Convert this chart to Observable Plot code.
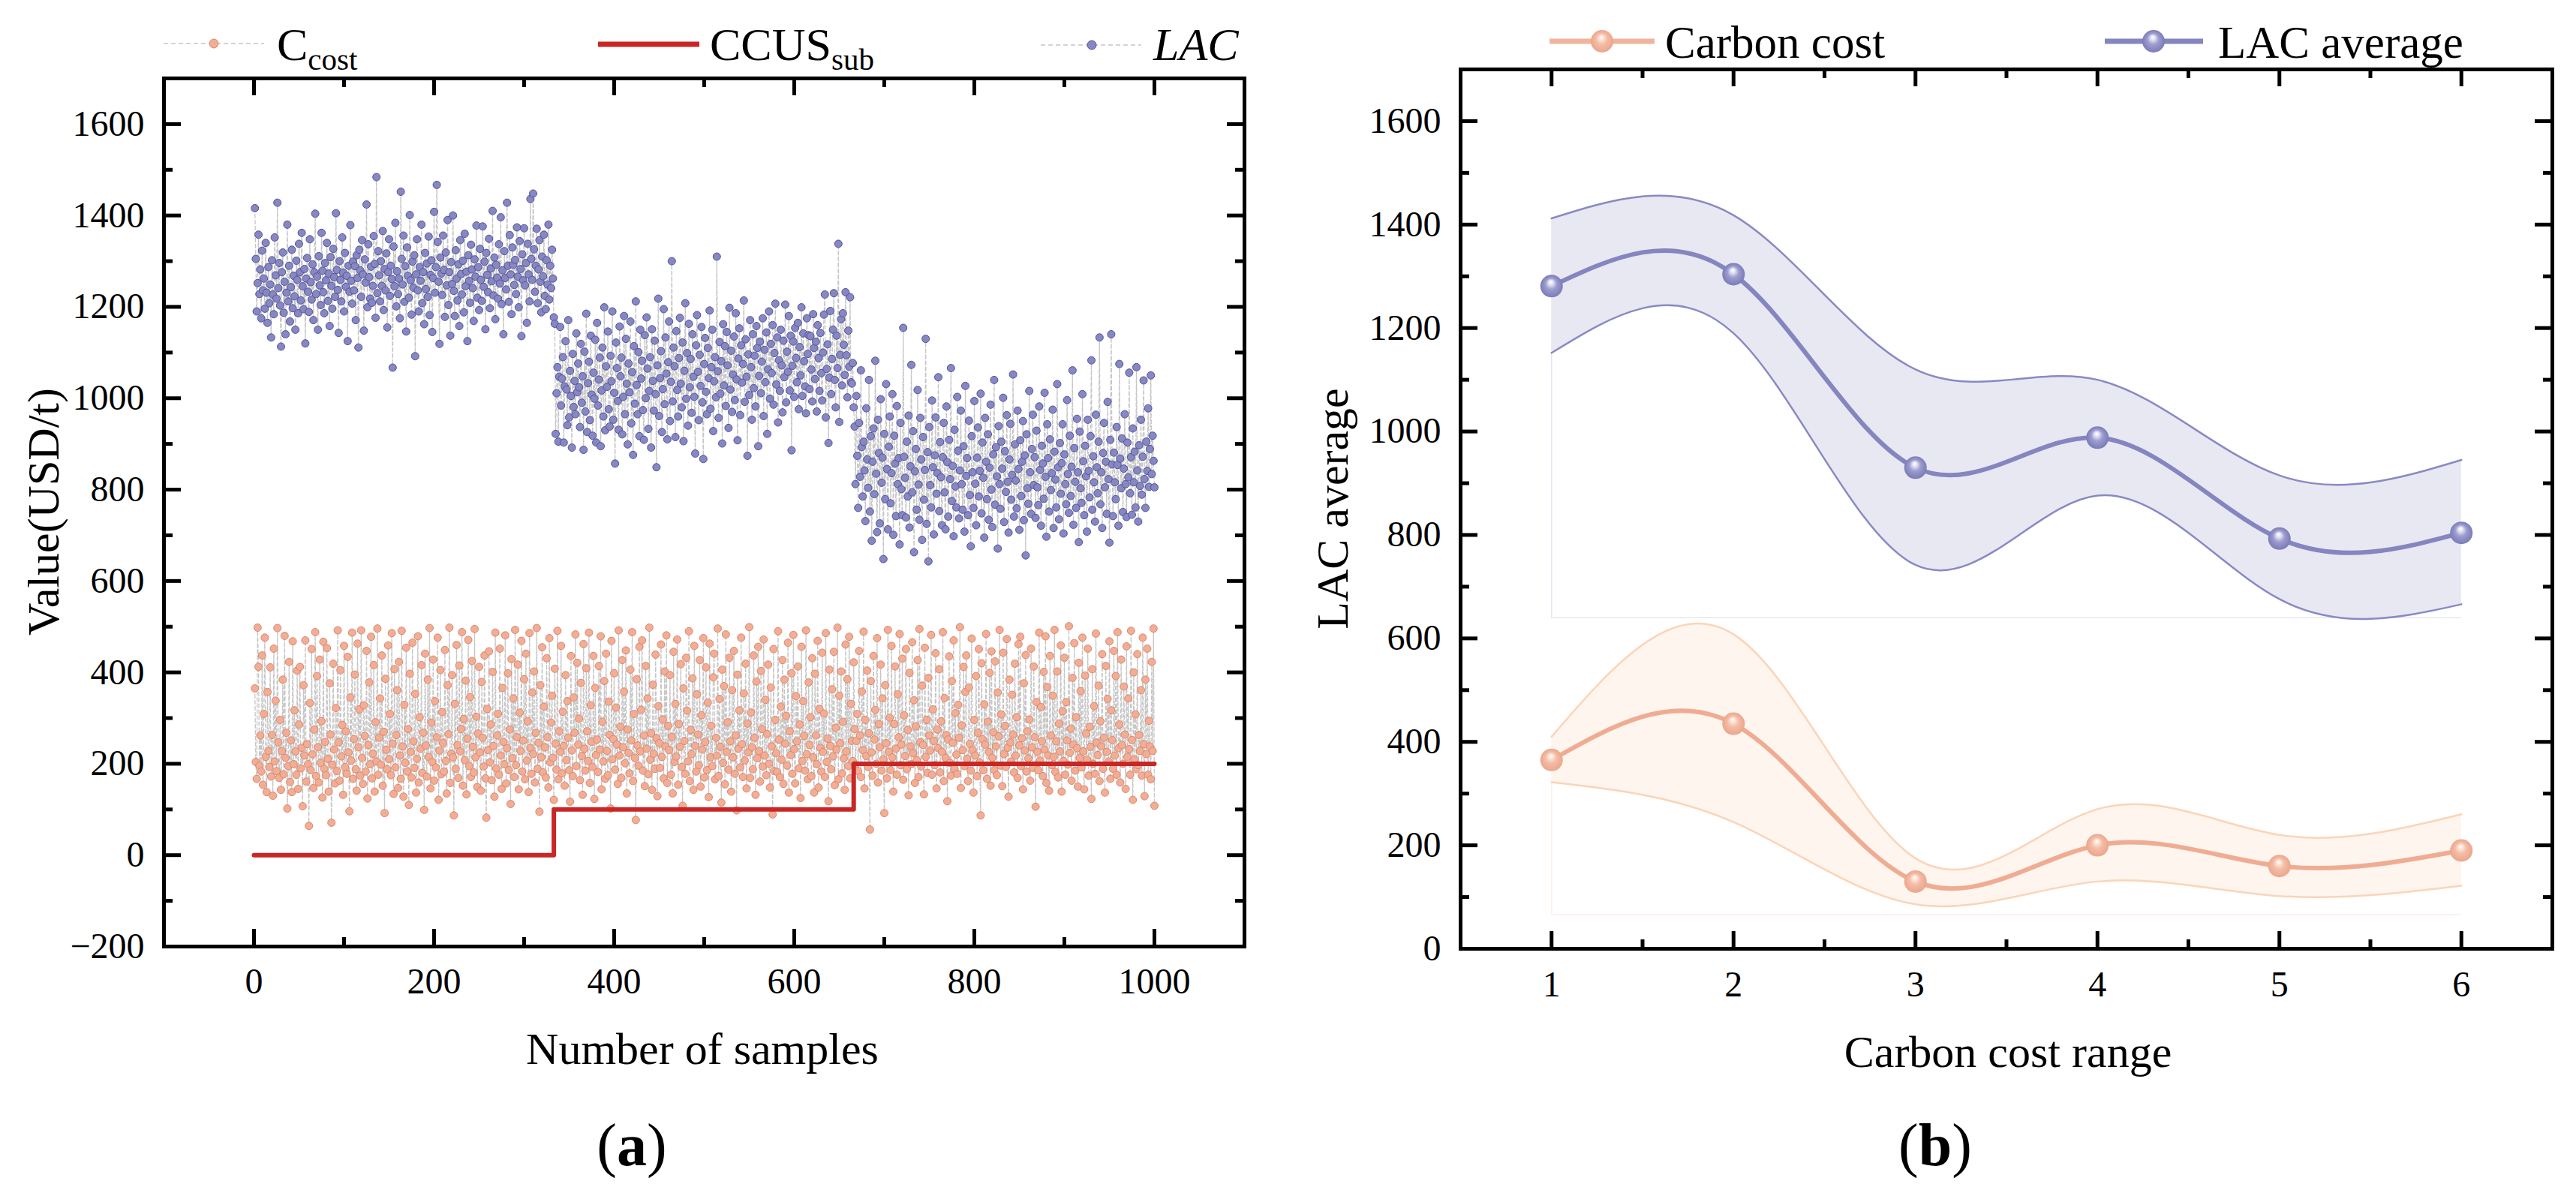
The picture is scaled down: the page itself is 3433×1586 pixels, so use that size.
<!DOCTYPE html>
<html>
<head>
<meta charset="utf-8">
<script src="https://cdn.jsdelivr.net/npm/d3@7"></script>
<script src="https://cdn.jsdelivr.net/npm/@observablehq/plot@0.6"></script>
<style>
  body { margin: 0; background: #fff; color: #000; }
  #root { position: relative; width: 3433px; height: 1586px; background: #fff; overflow: hidden;
          font-family: "Liberation Serif", "Times New Roman", serif; }
  #root svg.panel { position: absolute; top: 0; }
  #root svg text, #root svg tspan { font-family: "Liberation Serif", "Times New Roman", serif !important; font-variant: normal !important; }
  #overlay { position: absolute; left: 0; top: 0; pointer-events: none; }
</style>
</head>
<body>
<svg width="0" height="0" style="position:absolute">
  <defs>
    <radialGradient id="gLac" cx="50%" cy="50%" r="50%" fx="46%" fy="30%">
      <stop offset="0" stop-color="#ffffff"/>
      <stop offset="0.2" stop-color="#e4e4f3"/>
      <stop offset="0.5" stop-color="#9d9dcf"/>
      <stop offset="1" stop-color="#7b7bb8"/>
    </radialGradient>
    <radialGradient id="gCost" cx="50%" cy="50%" r="50%" fx="46%" fy="30%">
      <stop offset="0" stop-color="#ffffff"/>
      <stop offset="0.2" stop-color="#fde4d8"/>
      <stop offset="0.5" stop-color="#f4bca5"/>
      <stop offset="1" stop-color="#eba68c"/>
    </radialGradient>
  </defs>
</svg>
<div id="root"></div>
<script>
// ---------- Panel (a): samples ----------
const lacSeg1 = [
1416,1305,1190,1252,1358,1228,1282,1175,1323,1236,
1262,1196,1340,1231,1165,1287,1208,1249,1133,1302,
1227,1184,1352,1269,1218,1428,1241,1296,1203,1113,
1276,1319,1187,1255,1140,1231,1380,1212,1290,1168,
1243,1325,1197,1268,1223,1150,1301,1259,1186,1338,
1276,1214,1362,1245,1195,1283,1120,1262,1307,1233,
1189,1348,1254,1216,1293,1171,1276,1404,1228,1266,
1150,1311,1247,1204,1362,1279,1232,1186,1296,1258,
1340,1213,1273,1158,1309,1246,1196,1327,1265,1222,
1405,1281,1237,1143,1300,1259,1212,1352,1275,1190,
1318,1244,1268,1125,1290,1233,1379,1257,1207,1299,
1236,1289,1171,1313,1263,1111,1325,1280,1222,1346,
1271,1148,1304,1253,1424,1199,1337,1265,1218,1288,
1209,1246,1355,1294,1176,1484,1230,1322,1269,1212,
1300,1246,1366,1193,1283,1236,1317,1155,1276,1348,
1224,1290,1261,1067,1332,1245,1384,1201,1278,1228,
1262,1175,1452,1305,1249,1356,1211,1289,1146,1330,
1268,1220,1401,1258,1183,1299,1242,1313,1092,1271,
1348,1236,1190,1287,1257,1380,1208,1276,1162,1318,
1239,1295,1222,1354,1182,1270,1302,1145,1263,1408,
1231,1287,1467,1342,1255,1119,1308,1273,1226,1356,
1281,1178,1319,1247,1390,1204,1276,1137,1298,1250,
1400,1235,1180,1324,1262,1214,1293,1158,1346,1272,
1227,1301,1188,1360,1245,1277,1125,1313,1257,1209,
1336,1282,1241,1169,1304,1266,1378,1220,1287,1193,
1327,1259,1213,1376,1244,1299,1151,1318,1270,1232,
1349,1197,1284,1256,1410,1225,1308,1173,1292,1264,
1218,1337,1251,1396,1206,1280,1140,1322,1263,1238,
1428,1290,1211,1357,1271,1184,1330,1292,1248,1303,
1228,1374,1266,1199,1344,1283,1136,1315,1258,1372,
1247,1296,1165,1338,1271,1212,1436,1305,1259,1448,
1326,1233,1290,1371,1208,1282,1346,1255,1188,1310,
1267,1358,1224,1195,1302,1249,1380,1216,1290,1241,
1325,1262,1177
];
const lacSeg2 = [
1163,922,1011,1068,905,1047,1156,984,1043,1090,
903,1026,1125,1019,941,1171,958,1060,1005,892,
1097,981,1038,965,1142,1013,1076,1024,937,1119,
990,1048,887,1102,971,1185,926,1033,1080,952,
1137,1008,918,1056,999,1128,903,1165,984,1041,
1089,895,1017,1111,960,1199,930,1070,1025,1146,
976,938,1093,1037,1190,953,1012,857,1122,1066,
994,931,1157,1048,1089,921,1003,1180,965,1130,
1032,899,1076,1013,1168,945,1057,876,1114,988,
1212,1029,965,1101,917,1150,1043,1082,974,909,
1138,1000,1177,1065,933,1016,1090,892,1151,1038,
973,1126,1009,849,1072,1218,961,1044,1103,926,
1020,1195,987,1133,1054,910,1079,1168,950,1036,
1300,993,1111,1070,915,1147,1018,960,1088,1176,
1032,980,1122,906,1060,1208,999,1099,940,1163,
1024,1086,968,1140,1047,1003,879,1116,1182,1058,
952,1095,1027,1156,991,867,1075,1132,1014,965,
1110,1044,1192,977,1068,1150,928,1037,1090,1002,
1310,1059,957,1123,1010,1081,901,1162,1028,1114,
983,1145,1072,935,1198,1019,1104,970,1052,1135,
996,1186,1041,908,1087,1153,963,1116,1034,1075,
1214,992,1129,1047,874,1096,1007,1171,1068,953,
1140,1022,1093,982,1158,1110,895,1049,1124,1011,
1080,1175,961,1106,1035,1144,922,1063,1190,999,
1119,1055,1160,986,1099,1207,1030,1133,947,1083,
1016,1150,1072,969,1126,1046,1205,991,1102,1058,
1180,1017,1137,886,1071,1124,1003,1154,1088,1035,
1165,976,1112,1050,1199,1005,1142,1081,1026,967,
1175,1097,1138,1020,1136,1063,993,1184,1110,1042,
1124,971,1160,1088,1016,1143,1055,995,1100,1183,
1227,958,1064,1118,902,1045,1191,1009,1086,1150,
1230,1040,980,1137,1066,1338,948,1095,1173,1028,
1186,1117,1051,1232,1094,1002,1148,1069,1221,1035,
1032,1077,980
];
const lacSeg3 = [
938,812,1005,874,760,946,828,1061,893,785,
905,842,731,978,866,804,1040,752,917,688,
861,934,790,1082,835,707,953,880,726,998,
815,870,648,922,779,1031,845,713,894,960,
770,836,1009,701,918,857,742,983,812,869,
680,946,801,744,1154,872,826,739,905,785,
962,717,851,1073,794,928,663,840,889,756,
1018,811,734,957,866,690,915,778,843,1130,
725,882,643,937,810,761,995,849,702,875,
958,791,836,1046,753,904,827,722,871,946,
794,713,982,860,741,909,823,1066,775,852,
698,931,807,761,1003,885,737,842,973,812,
756,895,708,1027,830,869,744,951,788,676,
917,838,760,994,813,722,870,936,785,841,
1010,748,903,826,695,957,861,779,921,734,
848,986,800,718,877,1040,767,893,829,671,
939,812,758,905,846,1001,729,884,795,963,
817,706,866,944,778,832,1052,741,899,820,
759,973,845,712,908,786,861,950,733,875,
656,921,803,769,1016,838,747,889,964,810,
871,738,929,805,766,982,843,721,896,857,
780,1012,828,697,943,869,752,910,799,836,
975,716,883,822,761,1031,849,735,902,791,
858,943,704,877,812,768,996,834,749,918,
786,850,1061,723,891,817,760,955,838,685,
927,803,771,1009,862,744,896,829,708,953,
841,783,917,1083,756,873,816,730,964,849,
792,905,1133,768,838,716,880,946,805,861,
747,992,823,684,909,1140,855,742,881,816,
779,937,854,721,1075,868,803,912,751,846,
965,812,740,903,827,1056,792,871,745,934,
816,883,761,1068,842,730,897,808,953,789,
872,1039,823,760,905,841,978,806,889,1050,
834,918,863,805
];
const cCost = [
365,204,167,498,412,196,262,183,437,154,
309,476,215,138,357,228,193,411,172,263,
130,452,205,338,184,497,247,169,296,143,
228,384,177,480,213,268,102,195,423,160,
251,138,468,199,317,227,176,404,145,286,
412,190,235,107,372,218,470,161,243,199,
64,333,186,451,221,147,275,488,173,392,
236,159,428,202,293,126,467,189,248,175,
453,211,139,376,264,71,198,419,231,157,
322,184,492,247,163,405,216,285,132,458,
193,271,178,434,225,96,345,207,487,167,
254,395,188,141,463,236,319,174,492,213,
156,328,261,183,447,124,241,378,199,478,
168,222,416,139,291,205,496,176,257,343,
198,437,152,270,92,386,231,188,459,210,
309,175,486,244,134,407,192,263,361,147,
423,218,167,491,238,128,329,202,454,183,
276,110,397,226,170,465,249,191,353,137,
211,479,159,302,233,416,180,268,99,441,
240,172,384,215,497,146,290,204,428,163,
337,192,258,476,121,229,405,177,313,246,
183,449,206,135,372,265,498,158,222,394,
214,87,331,189,460,241,169,415,227,276,
488,152,298,208,382,133,255,471,195,346,
171,425,237,181,495,214,303,149,266,412,
225,141,379,257,194,437,168,82,320,230,
446,203,286,164,401,239,128,487,190,262,
309,176,452,218,145,366,248,199,481,157,
234,398,186,275,112,429,212,343,171,493,
197,258,417,144,312,228,469,183,251,385,
166,441,207,293,138,486,235,178,356,221,
402,159,268,497,189,246,95,372,214,455,
181,325,236,170,431,258,148,475,203,290,
349,213,121,408,244,187,491,166,271,226,
458,179,314,239,152,394,208,337,257,186,
117,436,229,173,345,268,483,195,421,242,
299,164,377,217,132,462,233,185,409,271,
206,487,158,328,248,193,436,123,366,219,
253,182,414,231,479,144,292,205,381,167,
441,228,175,336,263,102,469,210,254,398,
187,323,242,156,492,218,281,169,427,236,
358,201,448,135,275,224,179,406,251,488,
162,309,213,77,385,240,196,456,227,318,
470,185,262,151,414,233,343,177,498,209,
267,143,373,222,189,439,256,129,326,245,
191,461,215,297,168,402,238,481,158,283,
230,394,176,259,135,445,204,331,216,472,
154,287,237,418,193,108,365,250,178,432,
316,205,490,162,274,221,387,143,458,239,
183,352,264,197,427,150,306,231,475,170,
248,411,186,334,127,463,214,283,195,389,
441,166,257,218,496,173,342,237,115,406,
202,370,155,483,226,291,187,432,249,139,
361,214,447,178,262,98,395,233,317,192,
476,243,171,354,207,419,146,288,225,499,
169,312,236,188,437,257,132,380,212,456,
228,161,403,276,194,472,218,340,175,265,
417,200,148,367,238,89,451,184,296,223,
182,490,253,171,325,209,427,156,384,244,
305,196,465,137,271,219,398,178,482,232,
157,348,249,413,190,286,125,456,206,337,
261,185,492,221,166,378,241,302,173,431,
214,137,397,262,199,469,148,320,235,183,
443,226,310,171,486,204,255,118,406,239,
188,363,216,445,153,279,231,498,166,349,
245,402,179,292,212,143,461,227,385,195,
478,168,331,250,206,422,276,198,250,309,
184,447,262,171,358,230,489,146,296,217,
404,193,267,56,381,225,174,436,253,318,
200,475,159,287,236,417,185,343,210,92,
372,245,168,493,226,301,186,458,214,139,
287,413,233,176,352,258,484,197,242,430,
165,306,217,451,188,274,131,399,238,199,
466,223,339,158,282,208,427,171,495,247,
194,371,241,133,454,215,296,180,388,262,
229,482,176,319,250,197,442,146,275,234,
407,181,293,226,488,162,344,213,263,118,
253,435,202,174,381,246,470,189,311,220,
178,329,257,499,147,284,230,412,195,357,
437,211,162,367,244,185,474,229,137,296,
218,392,173,268,451,203,87,420,254,186,
330,242,484,167,292,226,399,152,446,213,
269,186,424,238,175,356,260,493,196,308,
151,443,221,283,193,473,235,128,384,247,
205,351,264,181,419,218,302,169,462,240,
478,195,256,144,376,229,438,183,271,212,
297,163,452,236,191,413,258,106,335,226,
186,487,207,324,249,173,401,231,479,158,
368,218,141,436,262,197,349,215,493,182,
249,402,170,288,227,459,139,315,206,432,
176,335,251,198,501,224,277,163,388,242,
464,185,302,234,150,421,213,359,192,476,
227,144,393,266,209,452,174,281,237,123,
407,200,326,178,485,246,219,371,162,293,
238,440,189,257,137,414,226,342,205,468,
167,317,252,189,447,218,392,176,488,234,
286,159,428,241,200,369,264,145,457,215,
343,232,176,491,252,121,400,209,308,188,
440,197,263,228,361,174,476,243,129,384,
221,452,176,294,238,166,423,228,496,108
];
const subX = [0, 333, 666, 1000];      // CCUS_sub step positions
const subY = [0, 100, 200, 200];       // CCUS_sub values

const yTicksA = [-200, 0, 200, 400, 600, 800, 1000, 1200, 1400, 1600];
const yMinorA = [-100, 100, 300, 500, 700, 900, 1100, 1300, 1500];
const xTicksA = [0, 200, 400, 600, 800, 1000];
const xMinorA = [100, 300, 500, 700, 900];

// ---------- Panel (b): averages by carbon cost range ----------
const ranges    = [1, 2, 3, 4, 5, 6];
const costMean  = [365, 435, 130, 200, 160, 190];
const costUpper = [410, 608, 175, 270, 220, 260];
const costLower = [322, 245, 86, 130, 102, 122];
const lacMean   = [1281, 1304, 930, 988, 793, 804];
const lacUpper  = [1412, 1418, 1120, 1100, 915, 945];
const lacLower  = [1152, 1190, 742, 876, 676, 666];
const lacBase = 640;   // faint fill baseline of the LAC band
const costBase = 66;   // faint fill baseline of the carbon band

const yTicksB = [0, 200, 400, 600, 800, 1000, 1200, 1400, 1600];
const yMinorB = [100, 300, 500, 700, 900, 1100, 1300, 1500];
const xTicksB = [1, 2, 3, 4, 5, 6];
const xMinorB = [1.5, 2.5, 3.5, 4.5, 5.5];

// ---------- tables ----------
const lacAll = [...lacSeg1, ...lacSeg2, ...lacSeg3];
const costRows = cCost.map((v, i) => ({x: i + 1, v}));
const lacRows = lacAll.map((v, i) => ({x: i + 1, v}));
const subRows = subX.map((x, i) => ({x, y: subY[i]}));
const bandRows = ranges.map((r, i) => ({
  r, costMean: costMean[i], costUpper: costUpper[i], costLower: costLower[i],
  lacMean: lacMean[i], lacUpper: lacUpper[i], lacLower: lacLower[i]
}));

const FONT = "'Liberation Serif', 'Times New Roman', serif";
const TICK_FS = 48;
const MAJ = 23, MIN = 12, TW = 5;
const fmt = d => (d < 0 ? "\u2212" + Math.abs(d) : String(d));

function frameTicks(fw, fh, yMaj, yMin, xMaj, xMin) {
  const s = {stroke: "black", strokeWidth: TW};
  return [
    Plot.ruleY(yMaj, {...s, insetRight: fw - MAJ}),
    Plot.ruleY(yMaj, {...s, insetLeft: fw - MAJ}),
    Plot.ruleY(yMin, {...s, insetRight: fw - MIN}),
    Plot.ruleY(yMin, {...s, insetLeft: fw - MIN}),
    Plot.ruleX(xMaj, {...s, insetTop: fh - MAJ}),
    Plot.ruleX(xMaj, {...s, insetBottom: fh - MAJ}),
    Plot.ruleX(xMin, {...s, insetTop: fh - MIN}),
    Plot.ruleX(xMin, {...s, insetBottom: fh - MIN})
  ];
}

// Panel (a)
const WA = 1700, HA = 1340;
const FA = {left: 218, right: 1658, top: 104, bottom: 1261};
const plotA = Plot.plot({
  width: WA, height: HA,
  marginLeft: FA.left, marginRight: WA - FA.right, marginTop: FA.top, marginBottom: HA - FA.bottom,
  style: {fontFamily: FONT, fontSize: TICK_FS + "px", background: "transparent", overflow: "visible", maxWidth: "none"},
  x: {domain: [-100, 1100]},
  y: {domain: [-200, 1700]},
  marks: [
    Plot.line(costRows, {x: "x", y: "v", stroke: "#c6c6c6", strokeWidth: 1.3, strokeDasharray: "5,3"}),
    Plot.line(lacRows, {x: "x", y: "v", stroke: "#c6c6c6", strokeWidth: 1.3, strokeDasharray: "5,3"}),
    Plot.dot(costRows, {x: "x", y: "v", r: 5, fill: "#f2ad95", stroke: "#d9876e", strokeWidth: 1}),
    Plot.dot(lacRows, {x: "x", y: "v", r: 5, fill: "#8787c1", stroke: "#52529c", strokeWidth: 1}),
    Plot.line(subRows, {x: "x", y: "y", curve: "step-after", stroke: "#c92626", strokeWidth: 6}),
    ...frameTicks(FA.right - FA.left, FA.bottom - FA.top, yTicksA, yMinorA, xTicksA, xMinorA),
    Plot.frame({stroke: "black", strokeWidth: TW}),
    Plot.axisX(xTicksA, {anchor: "bottom", tickSize: 0, tickPadding: 28, fontSize: TICK_FS, fontFamily: FONT, tickFormat: fmt, label: null}),
    Plot.axisY(yTicksA, {anchor: "left", tickSize: 0, tickPadding: 26, fontSize: TICK_FS, fontFamily: FONT, tickFormat: fmt, label: null})
  ]
});
plotA.classList.add("panel");
plotA.style.left = "0px";

// Panel (b)
const OFFB = 1716;
const WB = 1716, HB = 1340;
const FB = {left: 1946 - OFFB, right: 3401 - OFFB, top: 92, bottom: 1264};
const plotB = Plot.plot({
  width: WB, height: HB,
  marginLeft: FB.left, marginRight: WB - FB.right, marginTop: FB.top, marginBottom: HB - FB.bottom,
  style: {fontFamily: FONT, fontSize: TICK_FS + "px", background: "transparent", overflow: "visible", maxWidth: "none"},
  x: {domain: [0.5, 6.5]},
  y: {domain: [0, 1700]},
  marks: [
    Plot.areaY(bandRows, {x: "r", y1: "lacLower", y2: "lacUpper", curve: "natural", fill: "#e8e8f2"}),
    Plot.areaY(bandRows, {x: "r", y1: "costLower", y2: "costUpper", curve: "natural", fill: "#fdf5ee"}),
    Plot.ruleY([lacBase], {x1: ranges[0], x2: ranges[5], stroke: "#e6e6f1", strokeWidth: 1.5}),
    Plot.ruleX([ranges[0]], {y1: lacBase, y2: lacLower[0], stroke: "#e6e6f1", strokeWidth: 1.5}),
    Plot.ruleY([costBase], {x1: ranges[0], x2: ranges[5], stroke: "#fcf0e8", strokeWidth: 1.5}),
    Plot.ruleX([ranges[0]], {y1: costBase, y2: costLower[0], stroke: "#fcf0e8", strokeWidth: 1.5}),
    Plot.line(bandRows, {x: "r", y: "lacUpper", curve: "natural", stroke: "#8989c4", strokeWidth: 2.5}),
    Plot.line(bandRows, {x: "r", y: "lacLower", curve: "natural", stroke: "#8989c4", strokeWidth: 2.5}),
    Plot.line(bandRows, {x: "r", y: "costUpper", curve: "natural", stroke: "#fcd4b7", strokeWidth: 2.5}),
    Plot.line(bandRows, {x: "r", y: "costLower", curve: "natural", stroke: "#fcd4b7", strokeWidth: 2.5}),
    Plot.line(bandRows, {x: "r", y: "lacMean", curve: "natural", stroke: "#8585c0", strokeWidth: 6}),
    Plot.line(bandRows, {x: "r", y: "costMean", curve: "natural", stroke: "#efac93", strokeWidth: 6}),
    Plot.dot(bandRows, {x: "r", y: "lacMean", r: 15, fill: "url(#gLac)"}),
    Plot.dot(bandRows, {x: "r", y: "costMean", r: 15, fill: "url(#gCost)"}),
    ...frameTicks(FB.right - FB.left, FB.bottom - FB.top, yTicksB, yMinorB, xTicksB, xMinorB),
    Plot.frame({stroke: "black", strokeWidth: TW}),
    Plot.axisX(xTicksB, {anchor: "bottom", tickSize: 0, tickPadding: 29, fontSize: TICK_FS, fontFamily: FONT, tickFormat: fmt, label: null}),
    Plot.axisY(yTicksB, {anchor: "left", tickSize: 0, tickPadding: 26, fontSize: TICK_FS, fontFamily: FONT, tickFormat: fmt, label: null})
  ]
});
plotB.classList.add("panel");
plotB.style.left = OFFB + "px";

const root = document.getElementById("root");
root.appendChild(plotA);
root.appendChild(plotB);

// ---------- legends, axis titles, panel labels ----------
const overlay = `
<svg id="overlay" width="3433" height="1586" font-family="Liberation Serif, Times New Roman, serif" fill="#000">
  <g>
    <line x1="218" x2="352" y1="58" y2="58" stroke="#c6c6c6" stroke-width="1.5" stroke-dasharray="6,4"/>
    <circle cx="285" cy="58" r="6" fill="#f2ad95" stroke="#d9876e" stroke-width="1"/>
    <text x="369" y="80" font-size="62">C<tspan font-size="41" dy="13">cost</tspan></text>

    <line x1="797" x2="932" y1="59" y2="59" stroke="#c92626" stroke-width="7"/>
    <text x="946" y="80" font-size="62">CCUS<tspan font-size="41" dy="13">sub</tspan></text>

    <line x1="1387" x2="1521" y1="60" y2="60" stroke="#c6c6c6" stroke-width="1.5" stroke-dasharray="6,4"/>
    <circle cx="1455" cy="60" r="6" fill="#8787c1" stroke="#52529c" stroke-width="1"/>
    <text x="1537" y="80" font-size="62" font-style="italic">LAC</text>
  </g>
  <g>
    <line x1="2065" x2="2205" y1="55" y2="55" stroke="#f2b49c" stroke-width="7"/>
    <circle cx="2135" cy="55" r="15" fill="url(#gCost)"/>
    <text x="2219" y="77" font-size="61">Carbon cost</text>

    <line x1="2805" x2="2936" y1="55" y2="55" stroke="#8585c0" stroke-width="7"/>
    <circle cx="2870" cy="55" r="15" fill="url(#gLac)"/>
    <text x="2956" y="77" font-size="61">LAC average</text>
  </g>
  <g font-size="60" text-anchor="middle">
    <text x="936" y="1418">Number of samples</text>
    <text x="2676" y="1422">Carbon cost range</text>
    <text transform="translate(78,682) rotate(-90)">Value(USD/t)</text>
    <text transform="translate(1796,678) rotate(-90)">LAC average</text>
  </g>
  <g font-size="80" text-anchor="middle">
    <text x="842" y="1553">(<tspan font-weight="bold">a</tspan>)</text>
    <text x="2579" y="1553">(<tspan font-weight="bold">b</tspan>)</text>
  </g>
</svg>`;
root.insertAdjacentHTML("beforeend", overlay);
</script>
</body>
</html>
